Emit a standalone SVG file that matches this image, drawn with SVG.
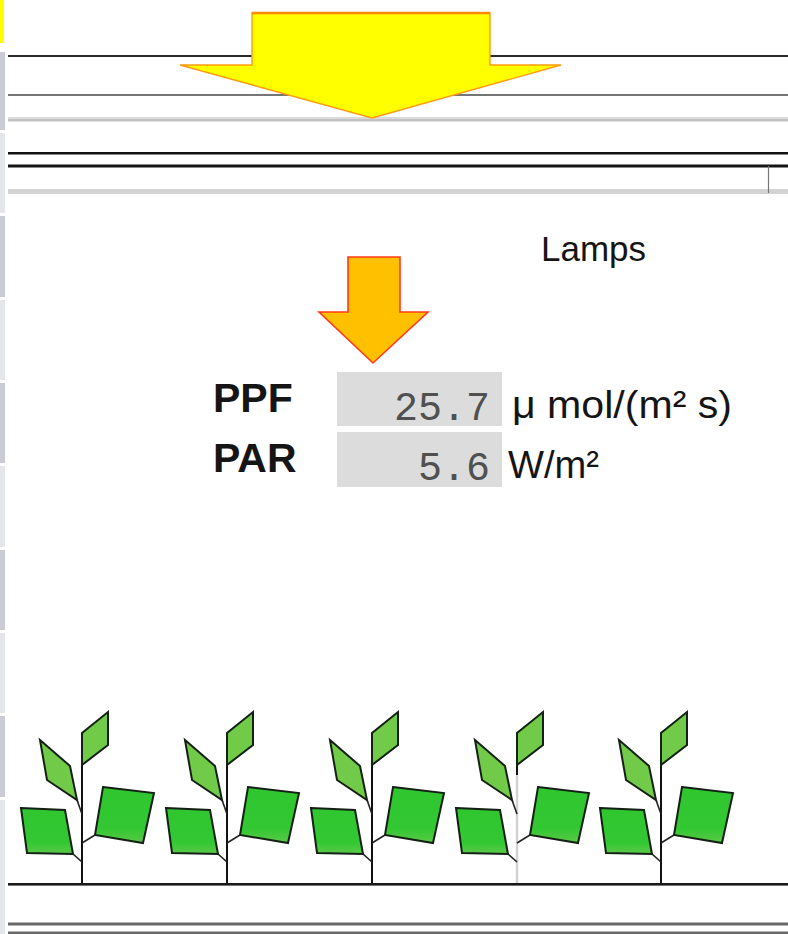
<svg xmlns="http://www.w3.org/2000/svg" width="788" height="934" viewBox="0 0 788 934">
  <style>
    .strip-dark { fill: #cbccd3; }
    .strip-light { fill: #e5e6ea; }
    .leaf { stroke: #142014; stroke-width: 2; stroke-linejoin: miter; }
    .leaf-young { fill: #72cb48; }
    .leaf-old { fill: url(#leafGrad); }
    .twig { stroke: #222; stroke-width: 1.6; fill: none; }
    .stem { stroke: #111; stroke-width: 2; }
    .label { font-family: "Liberation Sans", Arial, sans-serif; fill: #151515; }
    .value { font-family: "Liberation Mono", "Courier New", monospace; fill: #505050; font-size: 40px; text-anchor: end; }
    .field { fill: #dcdcdc; }
  </style>
  <defs>
    <linearGradient id="leafGrad" x1="0" y1="0" x2="0" y2="1">
      <stop offset="0" stop-color="#2fc62f"/>
      <stop offset="0.75" stop-color="#33c833"/>
      <stop offset="1" stop-color="#5cc848"/>
    </linearGradient>
    <!-- one seedling, stem axis at x = 0 -->
    <g id="plant">
      <line class="twig" x1="-5" y1="800" x2="0" y2="814"/>
      <line class="twig" x1="-9" y1="854" x2="0" y2="862"/>
      <line class="twig" x1="13" y1="835" x2="0" y2="843"/>
      <polygon class="leaf leaf-young" points="0,765 0,733 26,712 26,745"/>
      <polygon class="leaf leaf-young" points="-42,740 -12,766 -5,800 -35,780"/>
      <polygon class="leaf leaf-old" points="-61,808 -17,810 -9,854 -55,853"/>
      <polygon class="leaf leaf-old" points="21,787 72,793 61,843 13,835"/>
    </g>
  </defs>

  <rect width="788" height="934" fill="#ffffff"/>

  <!-- left edge strip -->
  <g id="edge-strip">
    <rect x="0" y="0" width="4" height="43" fill="#ffff00"/>
    <rect class="strip-dark" x="0" y="52" width="5" height="78"/>
    <rect class="strip-light" x="0" y="133" width="5" height="80"/>
    <rect class="strip-dark" x="0" y="216" width="5" height="81"/>
    <rect class="strip-light" x="0" y="300" width="5" height="80"/>
    <rect class="strip-dark" x="0" y="383" width="5" height="80"/>
    <rect class="strip-light" x="0" y="466" width="5" height="81"/>
    <rect class="strip-dark" x="0" y="550" width="5" height="80"/>
    <rect class="strip-light" x="0" y="633" width="5" height="80"/>
    <rect class="strip-dark" x="0" y="716" width="5" height="81"/>
    <rect class="strip-light" x="0" y="800" width="5" height="134"/>
  </g>

  <!-- horizontal rules of the upper panel -->
  <g id="upper-rules">
    <rect x="8" y="55" width="780" height="2" fill="#2a2a2a"/>
    <rect x="8" y="94" width="780" height="2" fill="#767676"/>
    <rect x="8" y="117" width="780" height="2" fill="#dadada"/>
    <rect x="8" y="119" width="780" height="2.5" fill="#c2c2c2"/>
    <rect x="8" y="152" width="780" height="2.5" fill="#111"/>
    <rect x="8" y="164.5" width="780" height="3" fill="#151515"/>
    <rect x="8" y="189" width="780" height="5" fill="#d3d3d3"/>
    <line x1="768.5" y1="166" x2="768.5" y2="193" stroke="#777" stroke-width="1.2"/>
  </g>

  <!-- sunlight arrow -->
  <g id="sun-arrow">
    <polygon points="252,13 490,13 490,65 561,65 372,118 180,65 252,65" fill="#ffff00" stroke="#ff9a10" stroke-width="1.4" stroke-linejoin="miter"/>
    <line x1="252" y1="13" x2="490" y2="13" stroke="#ff8a00" stroke-width="2.5"/>
  </g>

  <!-- lamp label and lamp arrow -->
  <g id="lamps">
    <text class="label" x="541" y="261" font-size="35">Lamps</text>
  </g>
  <g id="lamp-arrow">
    <polygon points="348,257 400,257 400,312 428,312 373,363 319,312 348,312" fill="#ffc000" stroke="#ff3a1a" stroke-width="1.6" stroke-linejoin="miter"/>
  </g>

  <!-- readouts -->
  <g id="ppf">
    <text class="label" x="213" y="412" font-size="41" font-weight="bold">PPF</text>
    <rect class="field" x="337" y="372" width="165" height="54"/>
    <text class="value" x="490" y="420">25.7</text>
    <text class="label" x="512" y="418" font-size="39" textLength="220" lengthAdjust="spacingAndGlyphs">μ mol/(m² s)</text>
  </g>
  <g id="par">
    <text class="label" x="213" y="472" font-size="41" font-weight="bold">PAR</text>
    <rect class="field" x="337" y="432" width="165" height="55"/>
    <text class="value" x="490" y="480">5.6</text>
    <text class="label" x="508" y="478" font-size="39" textLength="91" lengthAdjust="spacingAndGlyphs">W/m²</text>
  </g>

  <!-- seedlings -->
  <g id="plants">
    <g id="plant-1">
      <line class="stem" x1="82" y1="764" x2="82" y2="884"/>
      <use href="#plant" transform="translate(82,0)"/>
    </g>
    <g id="plant-2">
      <line class="stem" x1="227" y1="764" x2="227" y2="884"/>
      <use href="#plant" transform="translate(227,0)"/>
    </g>
    <g id="plant-3">
      <line class="stem" x1="372" y1="764" x2="372" y2="884"/>
      <use href="#plant" transform="translate(372,0)"/>
    </g>
    <g id="plant-4">
      <line x1="517" y1="764" x2="517" y2="775" stroke="#111" stroke-width="2"/>
      <line x1="517" y1="775" x2="517" y2="884" stroke="#d2d2d2" stroke-width="2.4"/>
      <use href="#plant" transform="translate(517,0)"/>
    </g>
    <g id="plant-5">
      <line class="stem" x1="661" y1="764" x2="661" y2="884"/>
      <use href="#plant" transform="translate(661,0)"/>
    </g>
  </g>

  <!-- ground and base rules -->
  <g id="ground">
    <rect x="8" y="883" width="780" height="2.6" fill="#1a1a1a"/>
    <rect x="8" y="922.5" width="780" height="3" fill="#686868"/>
    <rect x="8" y="931.5" width="780" height="2.5" fill="#686868"/>
  </g>
</svg>
